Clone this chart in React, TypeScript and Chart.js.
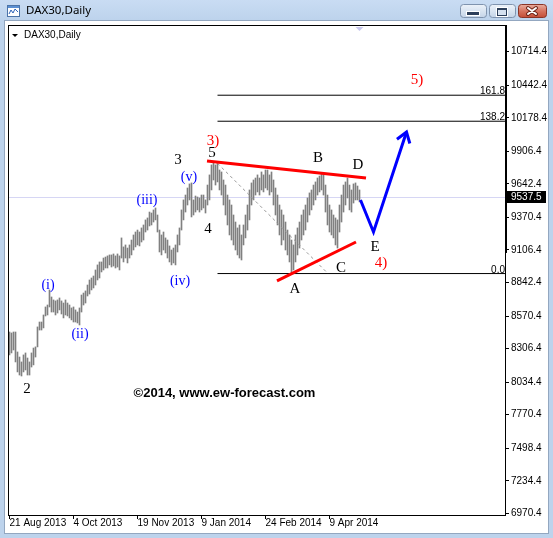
import React, { useEffect, useRef } from 'react';
import { Chart, registerables } from 'chart.js';

Chart.register(...registerables);

// DAX30 daily bars (high / low), one per trading day from 21 Aug 2013
const barHigh = [
  8441, 8433, 8441, 8441, 8279, 8238, 8198, 8255, 8271, 8230,
  8198, 8271, 8311, 8320, 8482, 8522, 8522, 8579, 8644, 8660,
  8782, 8725, 8701, 8693, 8701, 8717, 8693, 8676, 8701, 8676,
  8660, 8636, 8644, 8620, 8603, 8636, 8741, 8757, 8774, 8822,
  8863, 8879, 8895, 8944, 8985, 9009, 9009, 9041, 9049, 9058,
  9066, 9066, 9074, 9058, 9074, 9058, 9204, 9131, 9147, 9122,
  9147, 9187, 9228, 9252, 9268, 9252, 9285, 9309, 9350, 9366,
  9414, 9406, 9431, 9447, 9390, 9268, 9228, 9252, 9204, 9187,
  9139, 9106, 9122, 9147, 9228, 9285, 9431, 9512, 9552, 9609,
  9642, 9650, 9512, 9544, 9536, 9528, 9552, 9552, 9512, 9633,
  9715, 9796, 9820, 9796, 9812, 9755, 9739, 9674, 9633, 9552,
  9512, 9471, 9390, 9333, 9285, 9309, 9228, 9309, 9390, 9471,
  9593, 9650, 9674, 9690, 9715, 9690, 9739, 9715, 9755, 9755,
  9715, 9739, 9674, 9609, 9552, 9471, 9431, 9390, 9333, 9268,
  9228, 9187, 9147, 9228, 9285, 9333, 9390, 9431, 9471, 9528,
  9569, 9593, 9633, 9658, 9690, 9706, 9731, 9715, 9633, 9552,
  9471, 9431, 9390, 9366, 9350, 9471, 9552, 9633, 9658, 9690,
  9633, 9593, 9642, 9650, 9625, 9593,
];
const barLow = [
  8255, 8271, 8295, 8198, 8117, 8092, 8084, 8117, 8133, 8092,
  8092, 8157, 8174, 8238, 8320, 8457, 8457, 8474, 8571, 8579,
  8644, 8603, 8603, 8579, 8595, 8620, 8587, 8555, 8579, 8571,
  8555, 8539, 8522, 8522, 8514, 8498, 8603, 8660, 8676, 8733,
  8749, 8782, 8798, 8822, 8863, 8879, 8928, 8944, 8960, 8960,
  8985, 8968, 8976, 8960, 8968, 8944, 9041, 9009, 9041, 9001,
  9041, 9066, 9106, 9131, 9147, 9139, 9171, 9187, 9252, 9268,
  9301, 9309, 9333, 9350, 9252, 9090, 9066, 9106, 9082, 9041,
  9009, 8985, 9001, 8985, 9090, 9147, 9268, 9350, 9414, 9471,
  9512, 9374, 9390, 9414, 9431, 9414, 9431, 9447, 9406, 9471,
  9512, 9593, 9674, 9633, 9658, 9593, 9552, 9471, 9390, 9309,
  9228, 9187, 9147, 9106, 9066, 9041, 9025, 9147, 9204, 9268,
  9350, 9471, 9512, 9552, 9577, 9552, 9593, 9577, 9609, 9593,
  9552, 9577, 9471, 9390, 9309, 9228, 9147, 9187, 9106, 9066,
  9009, 8920, 8944, 9009, 9066, 9122, 9187, 9228, 9268, 9333,
  9390, 9431, 9471, 9512, 9552, 9577, 9593, 9552, 9414, 9309,
  9252, 9228, 9204, 9147, 9122, 9252, 9333, 9414, 9471, 9528,
  9431, 9414, 9487, 9512, 9512, 9496,
];

const dateTickIndex = [0, 32, 64, 96, 128, 160];
const dateTickLabels = ['21 Aug 2013', '4 Oct 2013', '19 Nov 2013', '9 Jan 2014', '24 Feb 2014', '9 Apr 2014'];
const priceTicks = [
  10714.4, 10442.4, 10178.4, 9906.4, 9642.4, 9370.4, 9106.4, 8842.4,
  8570.4, 8306.4, 8034.4, 7770.4, 7498.4, 7234.4, 6970.4,
];
const lastPrice = 9537.5;

// Fibonacci tool anchors [bar index, price]; level 100 at the start, 0 at the end
const fiboStart = [104, 9809];
const fiboEnd = [159.25, 8915];
const fiboLevels = [0, 138.2, 161.8];

// triangle boundaries and the projected E -> 5) path, [bar index, price]
const upperLine = [[98.75, 9828], [178.25, 9690]];
const lowerLine = [[133.75, 8855], [173.25, 9171]];
const projection = [[175.5, 9512], [182, 9252], [198.5, 10063]];

// wave labels: text, bar index, price, colour
const waveLabels: [string, number, number, string][] = [
  ['2', 8.75, 7979, '#000000'],
  ['3', 84.25, 9836, '#000000'],
  ['4', 99.25, 9277, '#000000'],
  ['5', 101.25, 9893, '#000000'],
  ['A', 142.75, 8790, '#000000'],
  ['B', 154.25, 9852, '#000000'],
  ['C', 165.75, 8960, '#000000'],
  ['D', 174.25, 9796, '#000000'],
  ['E', 182.75, 9131, '#000000'],
  ['3)', 101.75, 9990, '#ff0000'],
  ['4)', 185.75, 9001, '#ff0000'],
  ['5)', 203.75, 10485, '#ff0000'],
  ['(i)', 19.25, 8822, '#0000ff'],
  ['(ii)', 35.25, 8425, '#0000ff'],
  ['(iii)', 68.75, 9512, '#0000ff'],
  ['(iv)', 85.25, 8855, '#0000ff'],
  ['(v)', 89.75, 9698, '#0000ff'],
];
const copyright: [string, number, number] = ['\u00a92014, www.ew-forecast.com', 107.5, 7946];

const X_MIN = -0.75;
const X_MAX = 248.25;
const Y_MIN = 6948.5;
const Y_MAX = 10930.96;

const fiboPrice = (level: number) => fiboEnd[1] + ((fiboStart[1] - fiboEnd[1]) * level) / 100;
const toXY = (pts: number[][]) => pts.map(([x, y]) => ({ x, y }));

function roundRect(ctx: CanvasRenderingContext2D, x: number, y: number, w: number, h: number, r: number) {
  ctx.beginPath();
  ctx.moveTo(x + r, y);
  ctx.arcTo(x + w, y, x + w, y + h, r);
  ctx.arcTo(x + w, y + h, x, y + h, r);
  ctx.arcTo(x, y + h, x, y, r);
  ctx.arcTo(x, y, x + w, y, r);
  ctx.closePath();
}

function drawWindow(ctx: CanvasRenderingContext2D) {
  ctx.save();
  ctx.fillStyle = '#bdd3ec';
  ctx.fillRect(0, 0, 553, 538);
  const tg = ctx.createLinearGradient(0, 0, 0, 20);
  tg.addColorStop(0, '#c9dcf3');
  tg.addColorStop(1, '#bdd3ec');
  ctx.fillStyle = tg;
  ctx.fillRect(0, 0, 553, 20);
  ctx.fillStyle = '#93a7c0';
  ctx.fillRect(4, 20, 545, 514);
  ctx.fillStyle = '#ffffff';
  ctx.fillRect(5, 21, 543, 512);

  // window icon
  ctx.fillStyle = '#ffffff';
  ctx.fillRect(7, 5, 13, 12);
  ctx.fillStyle = '#5a8fd2';
  ctx.fillRect(7, 5, 13, 3);
  ctx.strokeStyle = '#4c74a8';
  ctx.lineWidth = 1;
  ctx.strokeRect(7.5, 5.5, 12, 11);
  ctx.beginPath();
  ctx.moveTo(9, 14);
  ctx.lineTo(11, 10);
  ctx.lineTo(13, 13);
  ctx.lineTo(15, 9);
  ctx.lineTo(18, 12);
  ctx.strokeStyle = '#2f64b8';
  ctx.stroke();

  // caption
  ctx.fillStyle = '#000000';
  ctx.font = '11.5px "Noto Sans"';
  ctx.textBaseline = 'middle';
  ctx.textAlign = 'left';
  ctx.fillText('DAX30,Daily', 26, 11);

  // caption buttons
  const button = (x: number, w: number, c1: string, c2: string, c3: string, border: string) => {
    roundRect(ctx, x + 0.5, 4.5, w, 13, 3);
    const g = ctx.createLinearGradient(0, 4, 0, 18);
    g.addColorStop(0, c1);
    g.addColorStop(0.5, c2);
    g.addColorStop(1, c3);
    ctx.fillStyle = g;
    ctx.fill();
    ctx.strokeStyle = border;
    ctx.lineWidth = 1;
    ctx.stroke();
  };
  button(460, 26, '#eef3fa', '#d9e4f1', '#c3d3e7', '#7f93ae');
  button(489, 26, '#eef3fa', '#d9e4f1', '#c3d3e7', '#7f93ae');
  button(518, 28, '#eab3a5', '#d6735f', '#c24a33', '#8a3426');

  ctx.fillStyle = '#ffffff';
  ctx.fillRect(466, 11, 14, 5);
  ctx.fillStyle = '#2d3f5a';
  ctx.fillRect(467, 12, 12, 3);

  ctx.fillStyle = '#ffffff';
  ctx.fillRect(496, 7, 12, 10);
  ctx.fillStyle = '#2d3f5a';
  ctx.fillRect(497, 8, 10, 8);
  ctx.fillStyle = '#d6e1ef';
  ctx.fillRect(498, 10, 8, 5);

  ctx.lineCap = 'round';
  ctx.beginPath();
  ctx.moveTo(528, 8);
  ctx.lineTo(536, 14);
  ctx.moveTo(536, 8);
  ctx.lineTo(528, 14);
  ctx.strokeStyle = '#6b2418';
  ctx.lineWidth = 4;
  ctx.stroke();
  ctx.strokeStyle = '#ffffff';
  ctx.lineWidth = 2;
  ctx.stroke();
  ctx.restore();
}

const terminalPlugin = {
  id: 'terminal',
  beforeDraw(chart: any) {
    drawWindow(chart.ctx);
  },
  beforeDatasetsDraw(chart: any) {
    const { ctx, chartArea, scales } = chart;
    const y = Math.round(scales.y.getPixelForValue(lastPrice)) + 0.5;
    ctx.save();
    ctx.strokeStyle = '#d6d6f4';
    ctx.lineWidth = 1;
    ctx.beginPath();
    ctx.moveTo(chartArea.left, y);
    ctx.lineTo(chartArea.right, y);
    ctx.stroke();
    ctx.restore();
  },
  afterDatasetsDraw(chart: any) {
    const { ctx, chartArea, scales } = chart;
    const xs = scales.x;
    const ys = scales.y;
    ctx.save();

    // arrow head at the end of the projected path
    const n = projection.length;
    const tx = xs.getPixelForValue(projection[n - 1][0]);
    const ty = ys.getPixelForValue(projection[n - 1][1]);
    const fx = xs.getPixelForValue(projection[n - 2][0]);
    const fy = ys.getPixelForValue(projection[n - 2][1]);
    const ang = Math.atan2(fy - ty, fx - tx);
    const len = 12;
    ctx.strokeStyle = '#0000ff';
    ctx.lineWidth = 3;
    ctx.lineCap = 'butt';
    ctx.beginPath();
    ctx.moveTo(tx + len * Math.cos(ang - 0.6), ty + len * Math.sin(ang - 0.6));
    ctx.lineTo(tx, ty);
    ctx.lineTo(tx + len * Math.cos(ang + 0.6), ty + len * Math.sin(ang + 0.6));
    ctx.stroke();

    // plot frame
    ctx.strokeStyle = '#000000';
    ctx.lineWidth = 1;
    ctx.strokeRect(chartArea.left + 0.5, chartArea.top + 0.5, chartArea.right - chartArea.left - 1, chartArea.bottom - chartArea.top - 1);
    ctx.beginPath();
    ctx.moveTo(chartArea.right + 0.5, chartArea.top);
    ctx.lineTo(chartArea.right + 0.5, ys.getPixelForValue(9082));
    ctx.stroke();

    // Fibonacci level captions
    ctx.fillStyle = '#000000';
    ctx.font = '10px "Liberation Sans"';
    ctx.textAlign = 'right';
    ctx.textBaseline = 'alphabetic';
    fiboLevels.forEach((lv) => {
      const py = Math.round(ys.getPixelForValue(fiboPrice(lv)));
      ctx.fillText(lv.toFixed(1), chartArea.right - 1, py - 1);
    });

    // wave labels
    ctx.textAlign = 'center';
    ctx.textBaseline = 'middle';
    waveLabels.forEach(([t, i, p, c]) => {
      ctx.fillStyle = c;
      ctx.font = t.startsWith('(') ? '14px "Liberation Serif"' : '15px "Liberation Serif"';
      ctx.fillText(t, xs.getPixelForValue(i), ys.getPixelForValue(p));
    });
    ctx.fillStyle = '#000000';
    ctx.font = 'bold 13px "Liberation Sans"';
    ctx.fillText(copyright[0], xs.getPixelForValue(copyright[1]), ys.getPixelForValue(copyright[2]));

    // chart caption
    ctx.textAlign = 'left';
    ctx.font = '10px "Liberation Sans"';
    ctx.fillText('DAX30,Daily', chartArea.left + 16, chartArea.top + 10);
    ctx.beginPath();
    ctx.moveTo(chartArea.left + 4, chartArea.top + 9);
    ctx.lineTo(chartArea.left + 10, chartArea.top + 9);
    ctx.lineTo(chartArea.left + 7, chartArea.top + 12);
    ctx.closePath();
    ctx.fill();

    // chart shift marker over the last bar
    const sx = xs.getPixelForValue(barHigh.length - 1);
    ctx.fillStyle = '#c8c8ee';
    ctx.beginPath();
    ctx.moveTo(sx - 4, chartArea.top + 2);
    ctx.lineTo(sx + 4, chartArea.top + 2);
    ctx.lineTo(sx, chartArea.top + 6);
    ctx.closePath();
    ctx.fill();
    ctx.restore();
  },
  afterDraw(chart: any) {
    const { ctx, chartArea, scales } = chart;
    const py = Math.round(scales.y.getPixelForValue(lastPrice));
    ctx.save();
    ctx.fillStyle = '#000000';
    ctx.fillRect(chartArea.right, py - 6, 40, 12);
    ctx.fillStyle = '#ffffff';
    ctx.font = '10px "Liberation Sans"';
    ctx.textAlign = 'left';
    ctx.textBaseline = 'middle';
    ctx.fillText(lastPrice.toFixed(1), chartArea.right + 5, py);
    ctx.restore();
  },
};

export default function App() {
  const ref = useRef<HTMLCanvasElement>(null);

  useEffect(() => {
    const canvas = ref.current;
    if (!canvas) return;
    const lineBase = { type: 'line' as const, pointRadius: 0, fill: false, tension: 0, spanGaps: true };
    const chart = new Chart(canvas, {
      type: 'bar',
      data: {
        datasets: [
          { ...lineBase, data: toXY(projection), borderColor: '#0000ff', borderWidth: 3, order: 1 },
          { ...lineBase, data: toXY(upperLine), borderColor: '#ff0000', borderWidth: 3, order: 2 },
          { ...lineBase, data: toXY(lowerLine), borderColor: '#ff0000', borderWidth: 3, order: 2 },
          {
            ...lineBase,
            data: toXY([fiboStart, fiboEnd]),
            borderColor: '#9a9a9a',
            borderWidth: 1,
            borderDash: [3, 3],
            order: 3,
          },
          ...fiboLevels.map((lv) => ({
            ...lineBase,
            data: toXY([
              [Math.min(fiboStart[0], fiboEnd[0]), fiboPrice(lv)],
              [X_MAX, fiboPrice(lv)],
            ]),
            borderColor: '#000000',
            borderWidth: 1,
            order: 4,
          })),
          {
            type: 'bar' as const,
            data: barHigh.map((h, i) => ({ x: i, y: [barLow[i], h] })),
            backgroundColor: '#808080',
            borderWidth: 0,
            barThickness: 1,
            order: 10,
          },
        ] as any,
      },
      options: {
        responsive: false,
        devicePixelRatio: 1,
        animation: false,
        events: [],
        layout: { padding: { left: 8, top: 25, right: 0, bottom: 0 } },
        plugins: { legend: { display: false }, tooltip: { enabled: false }, title: { display: false } },
        scales: {
          x: {
            type: 'linear',
            min: X_MIN,
            max: X_MAX,
            offset: false,
            bounds: 'data',
            afterFit: (s: any) => {
              s.height = 22;
            },
            afterBuildTicks: (s: any) => {
              s.ticks = dateTickIndex.map((v) => ({ value: v }));
            },
            grid: { display: true, drawOnChartArea: false, drawTicks: true, tickLength: 3, color: '#000000', offset: false },
            border: { display: false },
            ticks: {
              autoSkip: false,
              maxRotation: 0,
              minRotation: 0,
              align: 'start',
              padding: 0,
              color: '#000000',
              font: { family: 'Liberation Sans', size: 10, lineHeight: 0.9 },
              callback: (v: any) => {
                const k = dateTickIndex.indexOf(Number(v));
                return k >= 0 ? dateTickLabels[k] : '';
              },
            },
          },
          y: {
            type: 'linear',
            position: 'right',
            min: Y_MIN,
            max: Y_MAX,
            offset: false,
            bounds: 'data',
            afterFit: (s: any) => {
              s.width = 47;
            },
            afterBuildTicks: (s: any) => {
              s.ticks = priceTicks.map((v) => ({ value: v }));
            },
            grid: { display: true, drawOnChartArea: false, drawTicks: true, tickLength: 3, color: '#000000' },
            border: { display: false },
            ticks: {
              padding: 2,
              crossAlign: 'near',
              color: '#000000',
              font: { family: 'Liberation Sans', size: 10 },
              callback: (v: any) => Number(v).toFixed(1),
            },
          },
        },
      } as any,
      plugins: [terminalPlugin],
    });
    return () => chart.destroy();
  }, []);

  return (
    <div style={{ position: 'fixed', left: 0, top: 0, width: 553, height: 538 }}>
      <canvas ref={ref} width={553} height={538} style={{ display: 'block', width: 553, height: 538 }} />
    </div>
  );
}
